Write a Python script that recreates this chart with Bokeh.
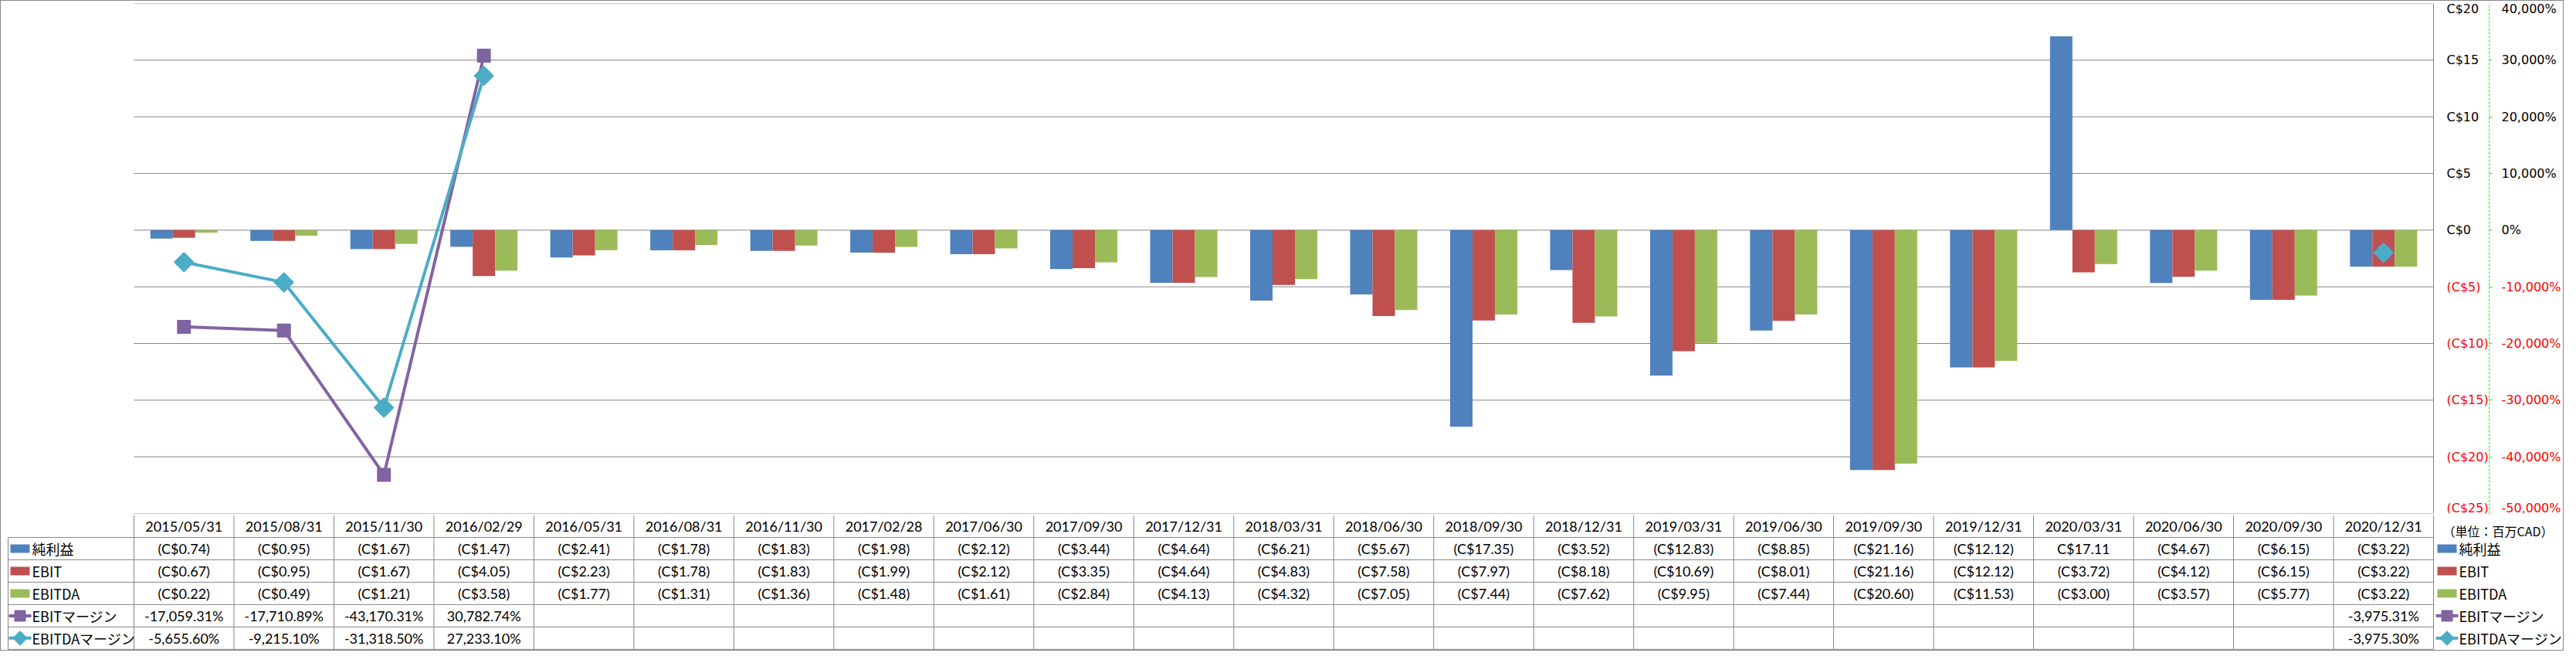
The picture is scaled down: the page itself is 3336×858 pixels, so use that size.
import math
from bokeh.plotting import figure
from bokeh.models import (Range1d, LinearAxis, FixedTicker, CustomJSTickFormatter,
                          ColumnDataSource)
from bokeh.layouts import column
from bokeh.embed import file_html
from bokeh.resources import INLINE
from bokeh.core.properties import value
from bokeh.transform import dodge

nan = float("nan")

# ---------------- data ----------------
dates = ["2015/05/31", "2015/08/31", "2015/11/30", "2016/02/29", "2016/05/31",
         "2016/08/31", "2016/11/30", "2017/02/28", "2017/06/30", "2017/09/30",
         "2017/12/31", "2018/03/31", "2018/06/30", "2018/09/30", "2018/12/31",
         "2019/03/31", "2019/06/30", "2019/09/30", "2019/12/31", "2020/03/31",
         "2020/06/30", "2020/09/30", "2020/12/31"]
net_income = [-0.74, -0.95, -1.67, -1.47, -2.41, -1.78, -1.83, -1.98, -2.12, -3.44,
              -4.64, -6.21, -5.67, -17.35, -3.52, -12.83, -8.85, -21.16, -12.12, 17.11,
              -4.67, -6.15, -3.22]
ebit = [-0.67, -0.95, -1.67, -4.05, -2.23, -1.78, -1.83, -1.99, -2.12, -3.35,
        -4.64, -4.83, -7.58, -7.97, -8.18, -10.69, -8.01, -21.16, -12.12, -3.72,
        -4.12, -6.15, -3.22]
ebitda = [-0.22, -0.49, -1.21, -3.58, -1.77, -1.31, -1.36, -1.48, -1.61, -2.84,
          -4.13, -4.32, -7.05, -7.44, -7.62, -9.95, -7.44, -20.60, -11.53, -3.00,
          -3.57, -5.77, -3.22]
ebit_margin = [-17059.31, -17710.89, -43170.31, 30782.74, nan, nan, nan, nan, nan, nan,
               nan, nan, nan, nan, nan, nan, nan, nan, nan, nan,
               nan, nan, -3975.31]
ebitda_margin = [-5655.60, -9215.10, -31318.50, 27233.10, nan, nan, nan, nan, nan, nan,
                 nan, nan, nan, nan, nan, nan, nan, nan, nan, nan,
                 nan, nan, -3975.30]
series_labels = ["純利益", "EBIT", "EBITDA", "EBITマージン", "EBITDAマージン"]
unit_note = "（単位：百万CAD）"
usd_ticks = [-25, -20, -15, -10, -5, 0, 5, 10, 15, 20]
pct_ticks = [-50000, -40000, -30000, -20000, -10000, 0, 10000, 20000, 30000, 40000]

# ---------------- style / layout ----------------
BLUE, RED, GREEN = "#4F81BD", "#C0504D", "#9BBB59"
PURPLE, CYAN = "#8064A2", "#4BACC6"
GRAY, NEG, AXIS_GREEN = "#868686", "#FF0000", "#00FF00"
AX_FONT = "DejaVu Sans"
TBL_FONT = "Lato"
LBL_FONT = "Noto Sans CJK JP"

N = len(dates)
PAGE_W = 3318
B_LEFT = 6                      # canvas border left of both frames
LEFT = 172                      # canvas x of the first category edge
PLOT_W = 2978                   # width of the category area
PX = PLOT_W / N                 # pixels per category
X0 = -(LEFT - B_LEFT) / PX
X1 = N + (PAGE_W - LEFT - PLOT_W) / PX
TOP = 3
FRAME_H = 660
GAP = 2
TABLE_H = 840 - TOP - FRAME_H - GAP
BAR_W = 29 / PX


def px_x(canvas_x):
    return (canvas_x - LEFT) / PX


xs = [i + 0.5 for i in range(N)]
src = ColumnDataSource(dict(x=xs, net=net_income, ebit=ebit, ebitda=ebitda,
                            ebit_m=ebit_margin, ebitda_m=ebitda_margin))

# ---------------- main chart ----------------
p = figure(width=PAGE_W, height=TOP + FRAME_H + GAP,
           frame_width=PAGE_W - B_LEFT, frame_height=FRAME_H,
           x_range=Range1d(X0, X1), y_range=Range1d(usd_ticks[0], usd_ticks[-1]),
           x_axis_location=None, y_axis_location=None,
           min_border_left=B_LEFT, min_border_right=0, min_border_top=TOP, min_border_bottom=GAP,
           toolbar_location=None, output_backend="svg", outline_line_color=None)
p.extra_y_ranges = {"pct": Range1d(pct_ticks[0], pct_ticks[-1])}
for g in p.grid:
    g.visible = False

# horizontal gridlines over the category area, one per dollar tick
p.segment(x0=[0] * len(usd_ticks), y0=usd_ticks, x1=[N] * len(usd_ticks), y1=usd_ticks,
          line_color=GRAY, line_width=1)

p.vbar(x=dodge("x", -BAR_W), top="net", bottom=0, width=BAR_W, source=src,
       fill_color=BLUE, line_color=None)
p.vbar(x="x", top="ebit", bottom=0, width=BAR_W, source=src,
       fill_color=RED, line_color=None)
p.vbar(x=dodge("x", BAR_W), top="ebitda", bottom=0, width=BAR_W, source=src,
       fill_color=GREEN, line_color=None)

p.line("x", "ebit_m", source=src, y_range_name="pct", line_color=PURPLE,
       line_width=4, line_join="round")
p.scatter("x", "ebit_m", source=src, y_range_name="pct", marker="square", size=16,
          fill_color=PURPLE, line_color=PURPLE, line_width=2, line_join="round")
p.line("x", "ebitda_m", source=src, y_range_name="pct", line_color=CYAN,
       line_width=4, line_join="round")
p.scatter("x", "ebitda_m", source=src, y_range_name="pct", marker="square",
          angle=math.pi / 4, size=17, fill_color=CYAN, line_color=CYAN,
          line_width=2, line_join="round")

usd_fmt = CustomJSTickFormatter(
    code="return tick < 0 ? '(C$' + Math.abs(Math.round(tick)) + ')' : 'C$' + Math.round(tick);")
pct_fmt = CustomJSTickFormatter(
    code="return Math.round(tick).toLocaleString('en-US') + '%';")


def make_axis(ticks, color, loc, rng, line_color, tick_color, fmt, tick_out, standoff, dash="solid"):
    return LinearAxis(fixed_location=loc, y_range_name=rng, ticker=FixedTicker(ticks=ticks),
                      formatter=fmt, axis_line_color=line_color, axis_line_dash=dash,
                      axis_line_width=1, major_tick_line_color=tick_color,
                      minor_tick_line_color=None, major_tick_in=0, major_tick_out=tick_out,
                      major_label_standoff=standoff, major_label_text_color=color,
                      major_label_text_font=AX_FONT, major_label_text_font_size="16px")


pos_usd = [t for t in usd_ticks if t >= 0]
neg_usd = [t for t in usd_ticks if t < 0]
pos_pct = [t for t in pct_ticks if t >= 0]
neg_pct = [t for t in pct_ticks if t < 0]
PCT_LOC = N + 72 / PX

p.add_layout(make_axis(pos_usd, "black", N, "default", GRAY, None, usd_fmt, 0, 17), "right")
p.add_layout(make_axis(neg_usd, NEG, N, "default", None, None, usd_fmt, 0, 17), "right")
p.add_layout(make_axis(pos_pct, "black", PCT_LOC, "pct", AXIS_GREEN, AXIS_GREEN, pct_fmt, 4, 12,
                       dash="3 2"), "right")
p.add_layout(make_axis(neg_pct, NEG, PCT_LOC, "pct", None, AXIS_GREEN, pct_fmt, 4, 12), "right")

# ---------------- data table ----------------
t = figure(width=PAGE_W, height=TABLE_H, frame_width=PAGE_W - B_LEFT, frame_height=TABLE_H,
           x_range=Range1d(X0, X1), y_range=Range1d(-0.04, 6),
           x_axis_location=None, y_axis_location=None,
           min_border_left=B_LEFT, min_border_right=0, min_border_top=0, min_border_bottom=0,
           toolbar_location=None, output_backend="svg", outline_line_color=None)
for g in t.grid:
    g.visible = False

LABEL_X = px_x(9)
rows_y = [4.5, 3.5, 2.5, 1.5, 0.5]

# cell borders
h_y = [5, 4, 3, 2, 1, 0]
t.segment(x0=[LABEL_X] * len(h_y), y0=h_y, x1=[N] * len(h_y), y1=h_y,
          line_color=GRAY, line_width=1)
v_x = list(range(N + 1))
t.segment(x0=v_x, y0=[0] * len(v_x), x1=v_x, y1=[6] * len(v_x), line_color=GRAY, line_width=1)
t.segment(x0=[LABEL_X], y0=[0], x1=[LABEL_X], y1=[5], line_color=GRAY, line_width=1)


def usd_str(v):
    return f"(C${-v:.2f})" if v < 0 else f"C${v:.2f}"


def pct_str(v):
    return "" if math.isnan(v) else f"{v:,.2f}%"


cell_x, cell_y, cell_t = [], [], []
for i, d in enumerate(dates):
    cell_x.append(xs[i]); cell_y.append(5.5); cell_t.append(d)
for r, series in enumerate([net_income, ebit, ebitda]):
    for i, v in enumerate(series):
        cell_x.append(xs[i]); cell_y.append(rows_y[r]); cell_t.append(usd_str(v))
for r, series in enumerate([ebit_margin, ebitda_margin]):
    for i, v in enumerate(series):
        cell_x.append(xs[i]); cell_y.append(rows_y[3 + r]); cell_t.append(pct_str(v))
t.text(x=cell_x, y=cell_y, text=cell_t, text_font=value(TBL_FONT),
       text_font_size=value("18px"), text_align="center", text_baseline="middle",
       text_color="black")


def draw_keys(key_left, text_x):
    cx = px_x(key_left + 12.5)
    t.rect(x=[cx] * 3, y=rows_y[:3], width=25, height=11, width_units="screen",
           height_units="screen", fill_color=[BLUE, RED, GREEN], line_color=None)
    t.segment(x0=[px_x(key_left - 2)] * 2, y0=rows_y[3:], x1=[px_x(key_left + 27)] * 2,
              y1=rows_y[3:], line_color=[PURPLE, CYAN], line_width=4)
    t.scatter(x=[cx], y=[rows_y[3]], marker="square", size=13, fill_color=PURPLE,
              line_color=PURPLE, line_join="round", line_width=2)
    t.scatter(x=[cx], y=[rows_y[4]], marker="square", angle=math.pi / 4, size=12,
              fill_color=CYAN, line_color=CYAN, line_join="round", line_width=2)
    t.text(x=[px_x(text_x)] * 5, y=rows_y, text=series_labels, text_font=value(LBL_FONT),
           text_font_size=value("18px"), text_align="left", text_baseline="middle",
           text_color="black")


draw_keys(12, 40)                                   # row labels of the table
draw_keys(LEFT + PLOT_W + 5, LEFT + PLOT_W + 33)    # legend at the right
t.text(x=[px_x(LEFT + PLOT_W + 12)], y=[5.3], text=[unit_note], text_font=value(LBL_FONT),
       text_font_size=value("16px"), text_align="left", text_baseline="middle",
       text_color="black")

layout = column(p, t, spacing=0, styles={"border": "1px solid #868686"})
open("out.html", "w").write(file_html(layout, INLINE))
